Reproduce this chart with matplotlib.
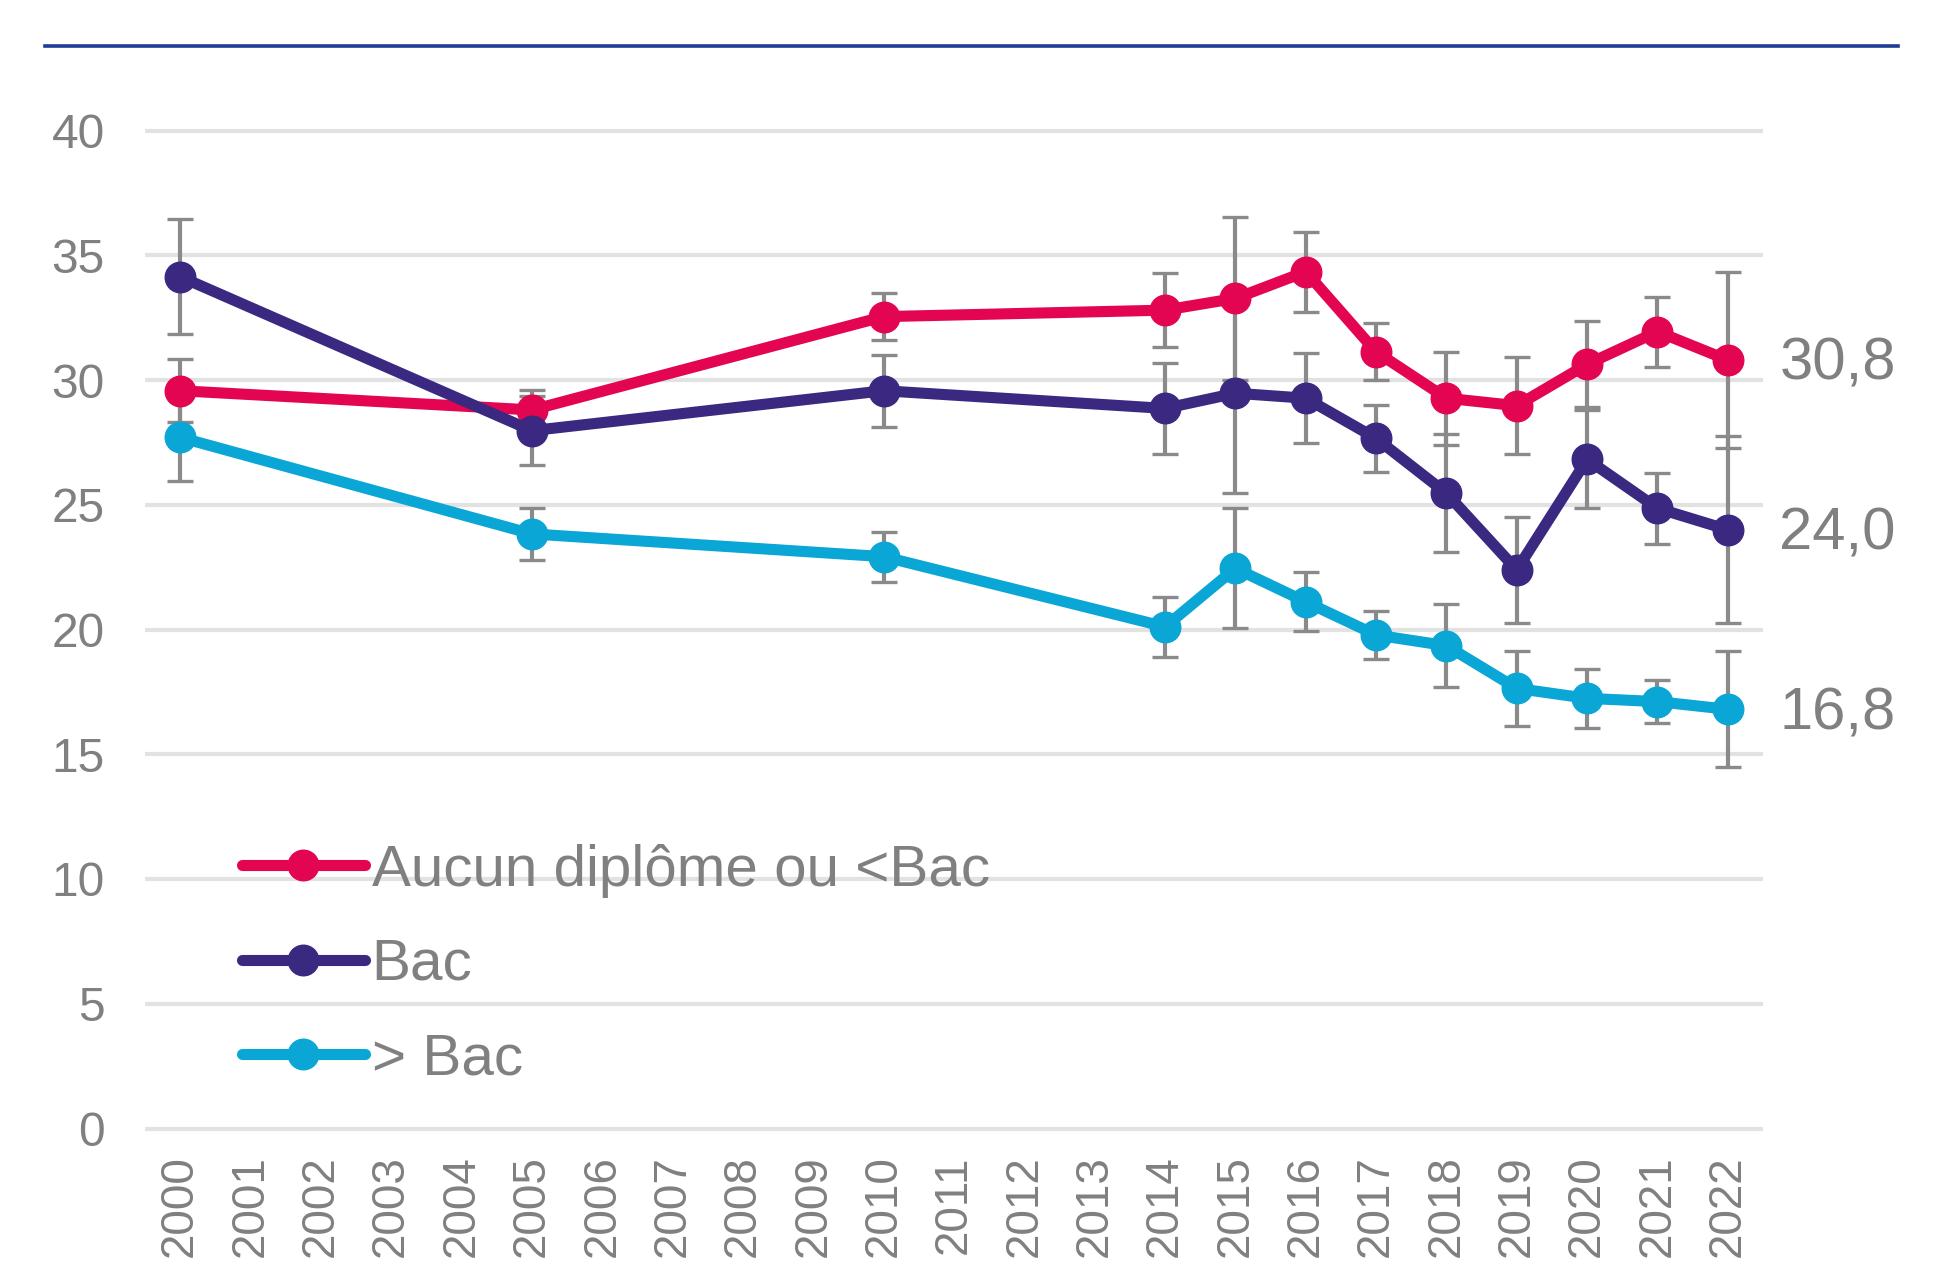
import matplotlib
matplotlib.use("Agg")
import matplotlib.pyplot as plt
from matplotlib.lines import Line2D

plt.rcParams['font.family'] = ['Liberation Sans', 'DejaVu Sans']

# ---------------- data ----------------
years = [2000, 2005, 2010, 2014, 2015, 2016, 2017, 2018, 2019, 2020, 2021, 2022]
tick_years = list(range(2000, 2023))

aucun = [29.57, 28.80, 32.54, 32.80, 33.27, 34.34, 31.13, 29.27, 28.97, 30.63, 31.94, 30.80]
aucun_err = [1.27, 0.80, 0.95, 1.47, 3.28, 1.60, 1.15, 1.86, 1.95, 1.72, 1.40, 3.54]

bac = [34.14, 27.97, 29.57, 28.86, 29.47, 29.27, 27.66, 25.46, 22.39, 26.82, 24.86, 24.00]
bac_err = [2.30, 1.38, 1.45, 1.82, 4.00, 1.80, 1.35, 2.37, 2.13, 1.96, 1.43, 3.75]

sup = [27.70, 23.83, 22.92, 20.11, 22.45, 21.11, 19.78, 19.35, 17.64, 17.24, 17.11, 16.80]
sup_err = [1.75, 1.03, 1.00, 1.20, 2.40, 1.19, 0.97, 1.67, 1.50, 1.19, 0.87, 2.33]

labels = ["Aucun diplôme ou <Bac", "Bac", "> Bac"]
end_labels = ["30,8", "24,0", "16,8"]
colors = ["#E30552", "#3B2881", "#0AA6D6"]

# ---------------- layout ----------------
W, H = 1944, 1285
fig = plt.figure(figsize=(W / 100, H / 100), dpi=100)

left_px, right_px = 145, 1763
y0_px, y40_px = 1128.5, 130.5
ppu = (y0_px - y40_px) / 40.0
ymin, ymax = -0.25, 40.25
bot_px = y0_px + (0 - ymin) * ppu
top_px = y40_px - (ymax - 40) * ppu
ax = fig.add_axes([left_px / W, 1 - bot_px / H, (right_px - left_px) / W, (bot_px - top_px) / H])

ax.set_xlim(1999.5, 2022.5)
ax.set_ylim(ymin, ymax)
ax.set_yticks(range(0, 41, 5))
ax.set_xticks(tick_years)
ax.set_xticklabels([str(y) for y in tick_years], rotation=90)

for s in ax.spines.values():
    s.set_visible(False)
ax.grid(axis='y', color='#E2E2E2', linewidth=3.0)
ax.grid(axis='x', visible=False)
ax.set_axisbelow(True)
ax.tick_params(axis='y', length=0, pad=29, labelsize=34.5, labelcolor='#808080')
ax.tick_params(axis='x', length=0, pad=15, labelsize=33, labelcolor='#808080')

series = [(aucun, aucun_err), (bac, bac_err), (sup, sup_err)]
handles = []
for i, ((vals, errs), col, lab) in enumerate(zip(series, colors, labels)):
    ax.errorbar(years, vals, yerr=errs, fmt='none', ecolor='#8A8A8A',
                elinewidth=3.0, capsize=9.5, capthick=2.4, zorder=2 + i * 0.1)
for i, ((vals, errs), col, lab) in enumerate(zip(series, colors, labels)):
    h, = ax.plot(years, vals, '-o', color=col, lw=8, markersize=22,
                 solid_capstyle='round', label=lab, zorder=3 + i)
    handles.append(h)
    ax.annotate(end_labels[i], xy=(years[-1], vals[-1]), xytext=(37, -3),
                textcoords='offset points', va='center', ha='left',
                fontsize=43, color='#808080', annotation_clip=False)

leg = ax.legend(handles=handles, loc='upper left', bbox_to_anchor=(0.06, 0.288),
                frameon=False, fontsize=42, handlelength=2.1, handletextpad=0.12,
                labelspacing=0.69, borderpad=0, borderaxespad=0)
for t in leg.get_texts():
    t.set_color('#808080')

# top rule
fig.add_artist(Line2D([45 / W, 1898 / W], [1 - 46 / H, 1 - 46 / H],
                      transform=fig.transFigure, color='#1F3C96', lw=2.6))

fig.savefig('out.png', dpi=100, facecolor='white')
